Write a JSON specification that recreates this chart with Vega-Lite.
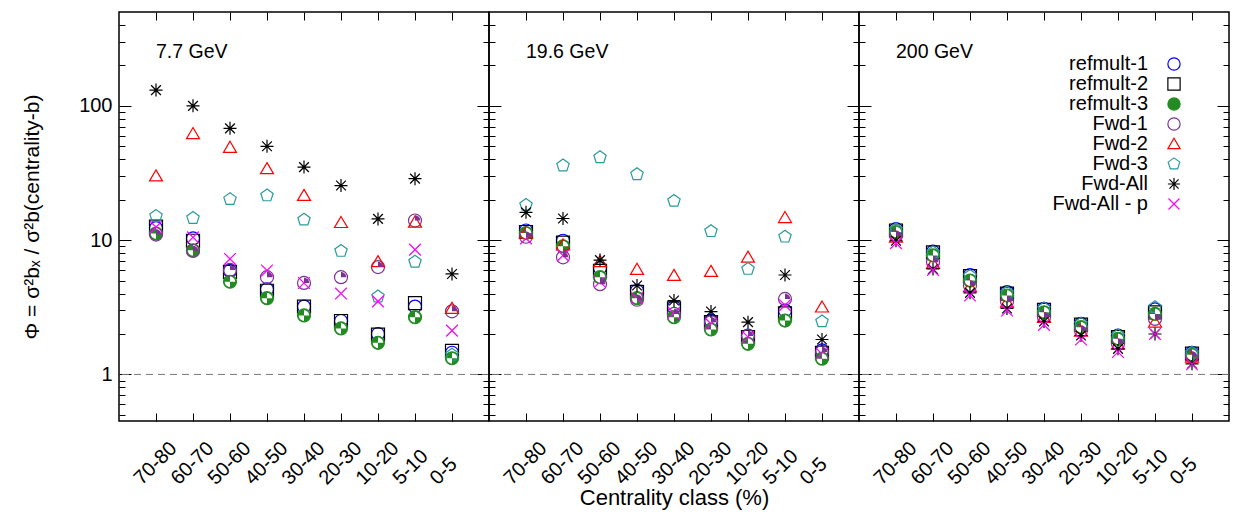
{
  "$schema": "https://vega.github.io/schema/vega-lite/v6.json",
  "background": "white",
  "padding": {"left": 20, "top": 10, "right": 2, "bottom": 2},
  "config": {
    "font": "Liberation Sans",
    "view": {"stroke": "black", "strokeWidth": 1.5},
    "axis": {"labelFont": "Liberation Sans", "labelFontSize": 20, "labelColor": "black", "titleFont": "Liberation Sans", "titleFontWeight": "normal", "titleColor": "black", "tickColor": "black", "domain": false, "grid": false, "tickWidth": 1},
    "legend": {"labelFont": "Liberation Sans", "labelFontSize": 20, "labelColor": "black"}
  },
  "data": {"values": [
    {"energy":"7.7","cent":"70-80","series":"refmult-1","phi":12.3},{"energy":"7.7","cent":"60-70","series":"refmult-1","phi":10.3},{"energy":"7.7","cent":"50-60","series":"refmult-1","phi":5.9},{"energy":"7.7","cent":"40-50","series":"refmult-1","phi":4.3},{"energy":"7.7","cent":"30-40","series":"refmult-1","phi":3.2},{"energy":"7.7","cent":"20-30","series":"refmult-1","phi":2.5},{"energy":"7.7","cent":"10-20","series":"refmult-1","phi":2.0},{"energy":"7.7","cent":"5-10","series":"refmult-1","phi":3.2},{"energy":"7.7","cent":"0-5","series":"refmult-1","phi":1.45},
    {"energy":"7.7","cent":"70-80","series":"refmult-2","phi":12.6},{"energy":"7.7","cent":"60-70","series":"refmult-2","phi":9.9},{"energy":"7.7","cent":"50-60","series":"refmult-2","phi":5.8},{"energy":"7.7","cent":"40-50","series":"refmult-2","phi":4.2},{"energy":"7.7","cent":"30-40","series":"refmult-2","phi":3.2},{"energy":"7.7","cent":"20-30","series":"refmult-2","phi":2.5},{"energy":"7.7","cent":"10-20","series":"refmult-2","phi":1.98},{"energy":"7.7","cent":"5-10","series":"refmult-2","phi":3.4},{"energy":"7.7","cent":"0-5","series":"refmult-2","phi":1.5},
    {"energy":"7.7","cent":"70-80","series":"refmult-3","phi":11.2},{"energy":"7.7","cent":"60-70","series":"refmult-3","phi":8.4},{"energy":"7.7","cent":"50-60","series":"refmult-3","phi":4.9},{"energy":"7.7","cent":"40-50","series":"refmult-3","phi":3.7},{"energy":"7.7","cent":"30-40","series":"refmult-3","phi":2.75},{"energy":"7.7","cent":"20-30","series":"refmult-3","phi":2.2},{"energy":"7.7","cent":"10-20","series":"refmult-3","phi":1.72},{"energy":"7.7","cent":"5-10","series":"refmult-3","phi":2.67},{"energy":"7.7","cent":"0-5","series":"refmult-3","phi":1.32},
    {"energy":"7.7","cent":"70-80","series":"Fwd-1","phi":11.0},{"energy":"7.7","cent":"60-70","series":"Fwd-1","phi":8.3},{"energy":"7.7","cent":"50-60","series":"Fwd-1","phi":6.0},{"energy":"7.7","cent":"40-50","series":"Fwd-1","phi":5.3},{"energy":"7.7","cent":"30-40","series":"Fwd-1","phi":4.8},{"energy":"7.7","cent":"20-30","series":"Fwd-1","phi":5.3},{"energy":"7.7","cent":"10-20","series":"Fwd-1","phi":6.3},{"energy":"7.7","cent":"5-10","series":"Fwd-1","phi":14.0},{"energy":"7.7","cent":"0-5","series":"Fwd-1","phi":2.95},
    {"energy":"7.7","cent":"70-80","series":"Fwd-2","phi":30},{"energy":"7.7","cent":"60-70","series":"Fwd-2","phi":62},{"energy":"7.7","cent":"50-60","series":"Fwd-2","phi":49},{"energy":"7.7","cent":"40-50","series":"Fwd-2","phi":34},{"energy":"7.7","cent":"30-40","series":"Fwd-2","phi":21.5},{"energy":"7.7","cent":"20-30","series":"Fwd-2","phi":13.5},{"energy":"7.7","cent":"10-20","series":"Fwd-2","phi":6.9},{"energy":"7.7","cent":"5-10","series":"Fwd-2","phi":13.6},{"energy":"7.7","cent":"0-5","series":"Fwd-2","phi":3.1},
    {"energy":"7.7","cent":"70-80","series":"Fwd-3","phi":15.1},{"energy":"7.7","cent":"60-70","series":"Fwd-3","phi":14.6},{"energy":"7.7","cent":"50-60","series":"Fwd-3","phi":20.2},{"energy":"7.7","cent":"40-50","series":"Fwd-3","phi":21.5},{"energy":"7.7","cent":"30-40","series":"Fwd-3","phi":14.2},{"energy":"7.7","cent":"20-30","series":"Fwd-3","phi":8.3},{"energy":"7.7","cent":"10-20","series":"Fwd-3","phi":3.8},{"energy":"7.7","cent":"5-10","series":"Fwd-3","phi":6.9},{"energy":"7.7","cent":"0-5","series":"Fwd-3","phi":1.4},
    {"energy":"7.7","cent":"70-80","series":"Fwd-All","phi":131},{"energy":"7.7","cent":"60-70","series":"Fwd-All","phi":100},{"energy":"7.7","cent":"50-60","series":"Fwd-All","phi":68},{"energy":"7.7","cent":"40-50","series":"Fwd-All","phi":50},{"energy":"7.7","cent":"30-40","series":"Fwd-All","phi":35},{"energy":"7.7","cent":"20-30","series":"Fwd-All","phi":25.5},{"energy":"7.7","cent":"10-20","series":"Fwd-All","phi":14.4},{"energy":"7.7","cent":"5-10","series":"Fwd-All","phi":28.7},{"energy":"7.7","cent":"0-5","series":"Fwd-All","phi":5.6},
    {"energy":"7.7","cent":"70-80","series":"Fwd-All - p","phi":12.5},{"energy":"7.7","cent":"60-70","series":"Fwd-All - p","phi":10.5},{"energy":"7.7","cent":"50-60","series":"Fwd-All - p","phi":7.25},{"energy":"7.7","cent":"40-50","series":"Fwd-All - p","phi":5.95},{"energy":"7.7","cent":"30-40","series":"Fwd-All - p","phi":4.8},{"energy":"7.7","cent":"20-30","series":"Fwd-All - p","phi":4.0},{"energy":"7.7","cent":"10-20","series":"Fwd-All - p","phi":3.5},{"energy":"7.7","cent":"5-10","series":"Fwd-All - p","phi":8.5},{"energy":"7.7","cent":"0-5","series":"Fwd-All - p","phi":2.12},

    {"energy":"19.6","cent":"70-80","series":"refmult-1","phi":11.8},{"energy":"19.6","cent":"60-70","series":"refmult-1","phi":9.9},{"energy":"19.6","cent":"50-60","series":"refmult-1","phi":6.2},{"energy":"19.6","cent":"40-50","series":"refmult-1","phi":4.2},{"energy":"19.6","cent":"30-40","series":"refmult-1","phi":3.17},{"energy":"19.6","cent":"20-30","series":"refmult-1","phi":2.52},{"energy":"19.6","cent":"10-20","series":"refmult-1","phi":1.95},{"energy":"19.6","cent":"5-10","series":"refmult-1","phi":2.99},{"energy":"19.6","cent":"0-5","series":"refmult-1","phi":1.51},
    {"energy":"19.6","cent":"70-80","series":"refmult-2","phi":11.5},{"energy":"19.6","cent":"60-70","series":"refmult-2","phi":9.6},{"energy":"19.6","cent":"50-60","series":"refmult-2","phi":5.9},{"energy":"19.6","cent":"40-50","series":"refmult-2","phi":4.1},{"energy":"19.6","cent":"30-40","series":"refmult-2","phi":3.1},{"energy":"19.6","cent":"20-30","series":"refmult-2","phi":2.45},{"energy":"19.6","cent":"10-20","series":"refmult-2","phi":1.9},{"energy":"19.6","cent":"5-10","series":"refmult-2","phi":2.85},{"energy":"19.6","cent":"0-5","series":"refmult-2","phi":1.45},
    {"energy":"19.6","cent":"70-80","series":"refmult-3","phi":11.3},{"energy":"19.6","cent":"60-70","series":"refmult-3","phi":9.0},{"energy":"19.6","cent":"50-60","series":"refmult-3","phi":5.3},{"energy":"19.6","cent":"40-50","series":"refmult-3","phi":3.7},{"energy":"19.6","cent":"30-40","series":"refmult-3","phi":2.67},{"energy":"19.6","cent":"20-30","series":"refmult-3","phi":2.16},{"energy":"19.6","cent":"10-20","series":"refmult-3","phi":1.69},{"energy":"19.6","cent":"5-10","series":"refmult-3","phi":2.52},{"energy":"19.6","cent":"0-5","series":"refmult-3","phi":1.31},
    {"energy":"19.6","cent":"70-80","series":"Fwd-1","phi":10.6},{"energy":"19.6","cent":"60-70","series":"Fwd-1","phi":7.45},{"energy":"19.6","cent":"50-60","series":"Fwd-1","phi":4.7},{"energy":"19.6","cent":"40-50","series":"Fwd-1","phi":3.6},{"energy":"19.6","cent":"30-40","series":"Fwd-1","phi":2.82},{"energy":"19.6","cent":"20-30","series":"Fwd-1","phi":2.45},{"energy":"19.6","cent":"10-20","series":"Fwd-1","phi":1.93},{"energy":"19.6","cent":"5-10","series":"Fwd-1","phi":3.65},{"energy":"19.6","cent":"0-5","series":"Fwd-1","phi":1.47},
    {"energy":"19.6","cent":"70-80","series":"Fwd-2","phi":11.3},{"energy":"19.6","cent":"60-70","series":"Fwd-2","phi":9.2},{"energy":"19.6","cent":"50-60","series":"Fwd-2","phi":6.9},{"energy":"19.6","cent":"40-50","series":"Fwd-2","phi":6.05},{"energy":"19.6","cent":"30-40","series":"Fwd-2","phi":5.45},{"energy":"19.6","cent":"20-30","series":"Fwd-2","phi":5.84},{"energy":"19.6","cent":"10-20","series":"Fwd-2","phi":7.45},{"energy":"19.6","cent":"5-10","series":"Fwd-2","phi":14.7},{"energy":"19.6","cent":"0-5","series":"Fwd-2","phi":3.17},
    {"energy":"19.6","cent":"70-80","series":"Fwd-3","phi":18.3},{"energy":"19.6","cent":"60-70","series":"Fwd-3","phi":35.9},{"energy":"19.6","cent":"50-60","series":"Fwd-3","phi":41.4},{"energy":"19.6","cent":"40-50","series":"Fwd-3","phi":30.9},{"energy":"19.6","cent":"30-40","series":"Fwd-3","phi":19.6},{"energy":"19.6","cent":"20-30","series":"Fwd-3","phi":11.65},{"energy":"19.6","cent":"10-20","series":"Fwd-3","phi":6.1},{"energy":"19.6","cent":"5-10","series":"Fwd-3","phi":10.6},{"energy":"19.6","cent":"0-5","series":"Fwd-3","phi":2.48},
    {"energy":"19.6","cent":"70-80","series":"Fwd-All","phi":16.1},{"energy":"19.6","cent":"60-70","series":"Fwd-All","phi":14.5},{"energy":"19.6","cent":"50-60","series":"Fwd-All","phi":7.1},{"energy":"19.6","cent":"40-50","series":"Fwd-All","phi":4.6},{"energy":"19.6","cent":"30-40","series":"Fwd-All","phi":3.55},{"energy":"19.6","cent":"20-30","series":"Fwd-All","phi":2.94},{"energy":"19.6","cent":"10-20","series":"Fwd-All","phi":2.45},{"energy":"19.6","cent":"5-10","series":"Fwd-All","phi":5.5},{"energy":"19.6","cent":"0-5","series":"Fwd-All","phi":1.82},
    {"energy":"19.6","cent":"70-80","series":"Fwd-All - p","phi":10.3},{"energy":"19.6","cent":"60-70","series":"Fwd-All - p","phi":7.7},{"energy":"19.6","cent":"50-60","series":"Fwd-All - p","phi":4.9},{"energy":"19.6","cent":"40-50","series":"Fwd-All - p","phi":3.7},{"energy":"19.6","cent":"30-40","series":"Fwd-All - p","phi":2.86},{"energy":"19.6","cent":"20-30","series":"Fwd-All - p","phi":2.38},{"energy":"19.6","cent":"10-20","series":"Fwd-All - p","phi":1.9},{"energy":"19.6","cent":"5-10","series":"Fwd-All - p","phi":3.28},{"energy":"19.6","cent":"0-5","series":"Fwd-All - p","phi":1.42},

    {"energy":"200","cent":"70-80","series":"refmult-1","phi":12.1},{"energy":"200","cent":"60-70","series":"refmult-1","phi":8.2},{"energy":"200","cent":"50-60","series":"refmult-1","phi":5.5},{"energy":"200","cent":"40-50","series":"refmult-1","phi":4.1},{"energy":"200","cent":"30-40","series":"refmult-1","phi":3.08},{"energy":"200","cent":"20-30","series":"refmult-1","phi":2.38},{"energy":"200","cent":"10-20","series":"refmult-1","phi":1.95},{"energy":"200","cent":"5-10","series":"refmult-1","phi":3.05},{"energy":"200","cent":"0-5","series":"refmult-1","phi":1.45},
    {"energy":"200","cent":"70-80","series":"refmult-2","phi":11.8},{"energy":"200","cent":"60-70","series":"refmult-2","phi":8.1},{"energy":"200","cent":"50-60","series":"refmult-2","phi":5.4},{"energy":"200","cent":"40-50","series":"refmult-2","phi":4.0},{"energy":"200","cent":"30-40","series":"refmult-2","phi":3.03},{"energy":"200","cent":"20-30","series":"refmult-2","phi":2.35},{"energy":"200","cent":"10-20","series":"refmult-2","phi":1.9},{"energy":"200","cent":"5-10","series":"refmult-2","phi":2.9},{"energy":"200","cent":"0-5","series":"refmult-2","phi":1.43},
    {"energy":"200","cent":"70-80","series":"refmult-3","phi":11.5},{"energy":"200","cent":"60-70","series":"refmult-3","phi":7.7},{"energy":"200","cent":"50-60","series":"refmult-3","phi":5.0},{"energy":"200","cent":"40-50","series":"refmult-3","phi":3.87},{"energy":"200","cent":"30-40","series":"refmult-3","phi":2.9},{"energy":"200","cent":"20-30","series":"refmult-3","phi":2.25},{"energy":"200","cent":"10-20","series":"refmult-3","phi":1.84},{"energy":"200","cent":"5-10","series":"refmult-3","phi":2.82},{"energy":"200","cent":"0-5","series":"refmult-3","phi":1.4},
    {"energy":"200","cent":"70-80","series":"Fwd-1","phi":10.8},{"energy":"200","cent":"60-70","series":"Fwd-1","phi":6.85},{"energy":"200","cent":"50-60","series":"Fwd-1","phi":4.6},{"energy":"200","cent":"40-50","series":"Fwd-1","phi":3.49},{"energy":"200","cent":"30-40","series":"Fwd-1","phi":2.67},{"energy":"200","cent":"20-30","series":"Fwd-1","phi":2.12},{"energy":"200","cent":"10-20","series":"Fwd-1","phi":1.69},{"energy":"200","cent":"5-10","series":"Fwd-1","phi":2.59},{"energy":"200","cent":"0-5","series":"Fwd-1","phi":1.36},
    {"energy":"200","cent":"70-80","series":"Fwd-2","phi":10.5},{"energy":"200","cent":"60-70","series":"Fwd-2","phi":6.7},{"energy":"200","cent":"50-60","series":"Fwd-2","phi":4.5},{"energy":"200","cent":"40-50","series":"Fwd-2","phi":3.45},{"energy":"200","cent":"30-40","series":"Fwd-2","phi":2.65},{"energy":"200","cent":"20-30","series":"Fwd-2","phi":2.1},{"energy":"200","cent":"10-20","series":"Fwd-2","phi":1.68},{"energy":"200","cent":"5-10","series":"Fwd-2","phi":2.45},{"energy":"200","cent":"0-5","series":"Fwd-2","phi":1.34},
    {"energy":"200","cent":"70-80","series":"Fwd-3","phi":12.0},{"energy":"200","cent":"60-70","series":"Fwd-3","phi":8.1},{"energy":"200","cent":"50-60","series":"Fwd-3","phi":5.4},{"energy":"200","cent":"40-50","series":"Fwd-3","phi":4.05},{"energy":"200","cent":"30-40","series":"Fwd-3","phi":3.1},{"energy":"200","cent":"20-30","series":"Fwd-3","phi":2.38},{"energy":"200","cent":"10-20","series":"Fwd-3","phi":1.95},{"energy":"200","cent":"5-10","series":"Fwd-3","phi":3.17},{"energy":"200","cent":"0-5","series":"Fwd-3","phi":1.45},
    {"energy":"200","cent":"70-80","series":"Fwd-All","phi":9.9},{"energy":"200","cent":"60-70","series":"Fwd-All","phi":6.1},{"energy":"200","cent":"50-60","series":"Fwd-All","phi":4.05},{"energy":"200","cent":"40-50","series":"Fwd-All","phi":3.1},{"energy":"200","cent":"30-40","series":"Fwd-All","phi":2.48},{"energy":"200","cent":"20-30","series":"Fwd-All","phi":1.95},{"energy":"200","cent":"10-20","series":"Fwd-All","phi":1.55},{"energy":"200","cent":"5-10","series":"Fwd-All","phi":2.0},{"energy":"200","cent":"0-5","series":"Fwd-All","phi":1.2},
    {"energy":"200","cent":"70-80","series":"Fwd-All - p","phi":9.5},{"energy":"200","cent":"60-70","series":"Fwd-All - p","phi":6.0},{"energy":"200","cent":"50-60","series":"Fwd-All - p","phi":3.87},{"energy":"200","cent":"40-50","series":"Fwd-All - p","phi":2.99},{"energy":"200","cent":"30-40","series":"Fwd-All - p","phi":2.34},{"energy":"200","cent":"20-30","series":"Fwd-All - p","phi":1.82},{"energy":"200","cent":"10-20","series":"Fwd-All - p","phi":1.47},{"energy":"200","cent":"5-10","series":"Fwd-All - p","phi":2.0},{"energy":"200","cent":"0-5","series":"Fwd-All - p","phi":1.19}
  ]},
  "spacing": 0,
  "bounds": "flush",
  "hconcat": [
    {
      "width": 370, "height": 409,
      "transform": [{"filter": "datum.energy == '7.7'"}],
      "resolve": {"axis": {"x": "independent", "y": "independent"}},
      "layer": [
        {"data": {"values": [{}]}, "mark": {"type": "rule", "strokeDash": [7, 5], "color": "#777777", "strokeWidth": 1},
         "encoding": {"y": {"datum": 1, "type": "quantitative", "scale": {"type": "log", "domain": [0.45, 500], "nice": false}, "axis": {"orient": "right", "values": [0.5,0.6,0.7,0.8,0.9,2,3,4,5,6,7,8,9,20,30,40,50,60,70,80,90,200,300,400], "tickSize": -6, "labels": false, "title": null}}}},
        {"mark": {"type": "point", "size": 169, "opacity": 1},
         "encoding": {
           "x": {"field": "cent", "type": "nominal", "sort": ["70-80","60-70","50-60","40-50","30-40","20-30","10-20","5-10","0-5"], "scale": {"type": "point", "domain": ["70-80","60-70","50-60","40-50","30-40","20-30","10-20","5-10","0-5"], "padding": 1}, "axis": {"orient": "bottom", "tickSize": -8, "labelAngle": -45, "labelAlign": "left", "labelBaseline": "middle", "labelPadding": 68, "labelOffset": -19, "title": null}},
           "y": {"field": "phi", "type": "quantitative", "scale": {"type": "log", "domain": [0.45, 500], "nice": false}, "axis": {"orient": "left", "values": [1, 10, 100], "tickSize": -12, "labelPadding": 19, "title": "Φ = σ²bₓ / σ²b(centrality-b)", "titleFontSize": 21, "titlePadding": 36}},
           "shape": {"field": "series", "type": "nominal", "scale": {"domain": ["refmult-1","refmult-2","refmult-3","Fwd-1","Fwd-2","Fwd-3","Fwd-All","Fwd-All - p"], "range": ["circle","square","circle","circle","M0,-0.95L1,0.75L-1,0.75Z","M0,-1L0.951,-0.309L0.588,0.809L-0.588,0.809L-0.951,-0.309Z","M0,-1L0,1M-1,0L1,0M-0.75,-0.75L0.75,0.75M-0.75,0.75L0.75,-0.75","M-0.9,-0.9L0.9,0.9M-0.9,0.9L0.9,-0.9"]}, "legend": {"title": null, "orient": "none", "legendX": 1045, "legendY": 42, "labelAlign": "right", "labelOffset": -36, "rowPadding": 0, "symbolSize": 150, "labelLimit": 300}},
           "stroke": {"field": "series", "type": "nominal", "scale": {"domain": ["refmult-1","refmult-2","refmult-3","Fwd-1","Fwd-2","Fwd-3","Fwd-All","Fwd-All - p"], "range": ["#0000ff","#000000","#228b22","#7b3294","#ff0000","#2b9a9a","#000000","#ff00ff"]}, "legend": {"title": null, "orient": "none", "legendX": 1045, "legendY": 42, "labelAlign": "right", "labelOffset": -36, "rowPadding": 0, "symbolSize": 150, "labelLimit": 300}},
           "fill": {"field": "series", "type": "nominal", "scale": {"domain": ["refmult-1","refmult-2","refmult-3","Fwd-1","Fwd-2","Fwd-3","Fwd-All","Fwd-All - p"], "range": ["transparent","transparent","#228b22","transparent","transparent","transparent","transparent","transparent"]}, "legend": {"title": null, "orient": "none", "legendX": 1045, "legendY": 42, "labelAlign": "right", "labelOffset": -36, "rowPadding": 0, "symbolSize": 150, "labelLimit": 300}},
           "strokeWidth": {"field": "series", "type": "nominal", "scale": {"domain": ["refmult-1","refmult-2","refmult-3","Fwd-1","Fwd-2","Fwd-3","Fwd-All","Fwd-All - p"], "range": [1.2,1.2,1,2.5,1.2,1.2,1.2,1.2]}, "legend": {"title": null, "orient": "none", "legendX": 1045, "legendY": 42, "labelAlign": "right", "labelOffset": -36, "rowPadding": 0, "symbolSize": 150, "labelLimit": 300}}
         }},
        {"transform": [{"filter": "datum.series == 'refmult-3'"}],
         "mark": {"type": "point", "filled": true, "shape": "M0,0L0,-1A1,1 0 0,1 1,0Z M0,0L0,1A1,1 0 0,1 -1,0Z", "fill": "white", "strokeWidth": 0, "size": 110, "opacity": 1},
         "encoding": {
           "x": {"field": "cent", "type": "nominal", "sort": ["70-80","60-70","50-60","40-50","30-40","20-30","10-20","5-10","0-5"], "scale": {"type": "point", "domain": ["70-80","60-70","50-60","40-50","30-40","20-30","10-20","5-10","0-5"], "padding": 1}, "axis": {"orient": "top", "tickSize": -8, "labels": false, "title": null}},
           "y": {"field": "phi", "type": "quantitative", "scale": {"type": "log", "domain": [0.45, 500], "nice": false}, "axis": {"orient": "left", "values": [0.5,0.6,0.7,0.8,0.9,2,3,4,5,6,7,8,9,20,30,40,50,60,70,80,90,200,300,400], "tickSize": -6, "labels": false, "title": null}}
         }},
        {"transform": [{"filter": "datum.series == 'Fwd-1'"}],
         "mark": {"type": "point", "filled": true, "shape": "M0,0L0,-1A1,1 0 0,1 1,0Z", "fill": "#7b3294", "strokeWidth": 0, "size": 110, "opacity": 1},
         "encoding": {
           "x": {"field": "cent", "type": "nominal", "sort": ["70-80","60-70","50-60","40-50","30-40","20-30","10-20","5-10","0-5"], "scale": {"type": "point", "domain": ["70-80","60-70","50-60","40-50","30-40","20-30","10-20","5-10","0-5"], "padding": 1}, "axis": null},
           "y": {"field": "phi", "type": "quantitative", "scale": {"type": "log", "domain": [0.45, 500], "nice": false}, "axis": {"orient": "right", "values": [1, 10, 100], "tickSize": -12, "labels": false, "title": null}}
         }},
        {"data": {"values": [{"label": "7.7 GeV"}]},
         "mark": {"type": "text", "align": "left", "baseline": "middle", "fontSize": 19.5, "color": "black"},
         "encoding": {
           "x": {"datum": "70-80", "type": "nominal", "axis": null},
           "y": {"datum": 250, "type": "quantitative", "axis": null},
           "text": {"field": "label"}
         }}
      ]
    },
    {
      "width": 370, "height": 409,
      "transform": [{"filter": "datum.energy == '19.6'"}],
      "resolve": {"axis": {"x": "independent", "y": "independent"}},
      "layer": [
        {"data": {"values": [{}]}, "mark": {"type": "rule", "strokeDash": [7, 5], "color": "#777777", "strokeWidth": 1},
         "encoding": {"y": {"datum": 1, "type": "quantitative", "scale": {"type": "log", "domain": [0.45, 500], "nice": false}, "axis": {"orient": "right", "values": [0.5,0.6,0.7,0.8,0.9,2,3,4,5,6,7,8,9,20,30,40,50,60,70,80,90,200,300,400], "tickSize": -6, "labels": false, "title": null}}}},
        {"mark": {"type": "point", "size": 169, "opacity": 1},
         "encoding": {
           "x": {"field": "cent", "type": "nominal", "sort": ["70-80","60-70","50-60","40-50","30-40","20-30","10-20","5-10","0-5"], "scale": {"type": "point", "domain": ["70-80","60-70","50-60","40-50","30-40","20-30","10-20","5-10","0-5"], "padding": 1}, "axis": {"orient": "bottom", "tickSize": -8, "labelAngle": -45, "labelAlign": "left", "labelBaseline": "middle", "labelPadding": 68, "labelOffset": -19, "title": "Centrality class (%)", "titleFontSize": 22, "titleY": 76, "titleBaseline": "middle"}},
           "y": {"field": "phi", "type": "quantitative", "scale": {"type": "log", "domain": [0.45, 500], "nice": false}, "axis": {"orient": "left", "values": [1, 10, 100], "tickSize": -12, "labels": false, "title": null}},
           "shape": {"field": "series", "type": "nominal", "scale": {"domain": ["refmult-1","refmult-2","refmult-3","Fwd-1","Fwd-2","Fwd-3","Fwd-All","Fwd-All - p"], "range": ["circle","square","circle","circle","M0,-0.95L1,0.75L-1,0.75Z","M0,-1L0.951,-0.309L0.588,0.809L-0.588,0.809L-0.951,-0.309Z","M0,-1L0,1M-1,0L1,0M-0.75,-0.75L0.75,0.75M-0.75,0.75L0.75,-0.75","M-0.9,-0.9L0.9,0.9M-0.9,0.9L0.9,-0.9"]}, "legend": {"title": null, "orient": "none", "legendX": 1045, "legendY": 42, "labelAlign": "right", "labelOffset": -36, "rowPadding": 0, "symbolSize": 150, "labelLimit": 300}},
           "stroke": {"field": "series", "type": "nominal", "scale": {"domain": ["refmult-1","refmult-2","refmult-3","Fwd-1","Fwd-2","Fwd-3","Fwd-All","Fwd-All - p"], "range": ["#0000ff","#000000","#228b22","#7b3294","#ff0000","#2b9a9a","#000000","#ff00ff"]}, "legend": {"title": null, "orient": "none", "legendX": 1045, "legendY": 42, "labelAlign": "right", "labelOffset": -36, "rowPadding": 0, "symbolSize": 150, "labelLimit": 300}},
           "fill": {"field": "series", "type": "nominal", "scale": {"domain": ["refmult-1","refmult-2","refmult-3","Fwd-1","Fwd-2","Fwd-3","Fwd-All","Fwd-All - p"], "range": ["transparent","transparent","#228b22","transparent","transparent","transparent","transparent","transparent"]}, "legend": {"title": null, "orient": "none", "legendX": 1045, "legendY": 42, "labelAlign": "right", "labelOffset": -36, "rowPadding": 0, "symbolSize": 150, "labelLimit": 300}},
           "strokeWidth": {"field": "series", "type": "nominal", "scale": {"domain": ["refmult-1","refmult-2","refmult-3","Fwd-1","Fwd-2","Fwd-3","Fwd-All","Fwd-All - p"], "range": [1.2,1.2,1,2.5,1.2,1.2,1.2,1.2]}, "legend": {"title": null, "orient": "none", "legendX": 1045, "legendY": 42, "labelAlign": "right", "labelOffset": -36, "rowPadding": 0, "symbolSize": 150, "labelLimit": 300}}
         }},
        {"transform": [{"filter": "datum.series == 'refmult-3'"}],
         "mark": {"type": "point", "filled": true, "shape": "M0,0L0,-1A1,1 0 0,1 1,0Z M0,0L0,1A1,1 0 0,1 -1,0Z", "fill": "white", "strokeWidth": 0, "size": 110, "opacity": 1},
         "encoding": {
           "x": {"field": "cent", "type": "nominal", "sort": ["70-80","60-70","50-60","40-50","30-40","20-30","10-20","5-10","0-5"], "scale": {"type": "point", "domain": ["70-80","60-70","50-60","40-50","30-40","20-30","10-20","5-10","0-5"], "padding": 1}, "axis": {"orient": "top", "tickSize": -8, "labels": false, "title": null}},
           "y": {"field": "phi", "type": "quantitative", "scale": {"type": "log", "domain": [0.45, 500], "nice": false}, "axis": {"orient": "left", "values": [0.5,0.6,0.7,0.8,0.9,2,3,4,5,6,7,8,9,20,30,40,50,60,70,80,90,200,300,400], "tickSize": -6, "labels": false, "title": null}}
         }},
        {"transform": [{"filter": "datum.series == 'Fwd-1'"}],
         "mark": {"type": "point", "filled": true, "shape": "M0,0L0,-1A1,1 0 0,1 1,0Z", "fill": "#7b3294", "strokeWidth": 0, "size": 110, "opacity": 1},
         "encoding": {
           "x": {"field": "cent", "type": "nominal", "sort": ["70-80","60-70","50-60","40-50","30-40","20-30","10-20","5-10","0-5"], "scale": {"type": "point", "domain": ["70-80","60-70","50-60","40-50","30-40","20-30","10-20","5-10","0-5"], "padding": 1}, "axis": null},
           "y": {"field": "phi", "type": "quantitative", "scale": {"type": "log", "domain": [0.45, 500], "nice": false}, "axis": {"orient": "right", "values": [1, 10, 100], "tickSize": -12, "labels": false, "title": null}}
         }},
        {"data": {"values": [{"label": "19.6 GeV"}]},
         "mark": {"type": "text", "align": "left", "baseline": "middle", "fontSize": 19.5, "color": "black"},
         "encoding": {
           "x": {"datum": "70-80", "type": "nominal", "axis": null},
           "y": {"datum": 250, "type": "quantitative", "axis": null},
           "text": {"field": "label"}
         }}
      ]
    },
    {
      "width": 370, "height": 409,
      "transform": [{"filter": "datum.energy == '200'"}],
      "resolve": {"axis": {"x": "independent", "y": "independent"}},
      "layer": [
        {"data": {"values": [{}]}, "mark": {"type": "rule", "strokeDash": [7, 5], "color": "#777777", "strokeWidth": 1},
         "encoding": {"y": {"datum": 1, "type": "quantitative", "scale": {"type": "log", "domain": [0.45, 500], "nice": false}, "axis": {"orient": "right", "values": [0.5,0.6,0.7,0.8,0.9,2,3,4,5,6,7,8,9,20,30,40,50,60,70,80,90,200,300,400], "tickSize": -6, "labels": false, "title": null}}}},
        {"mark": {"type": "point", "size": 169, "opacity": 1},
         "encoding": {
           "x": {"field": "cent", "type": "nominal", "sort": ["70-80","60-70","50-60","40-50","30-40","20-30","10-20","5-10","0-5"], "scale": {"type": "point", "domain": ["70-80","60-70","50-60","40-50","30-40","20-30","10-20","5-10","0-5"], "padding": 1}, "axis": {"orient": "bottom", "tickSize": -8, "labelAngle": -45, "labelAlign": "left", "labelBaseline": "middle", "labelPadding": 68, "labelOffset": -19, "title": null}},
           "y": {"field": "phi", "type": "quantitative", "scale": {"type": "log", "domain": [0.45, 500], "nice": false}, "axis": {"orient": "left", "values": [1, 10, 100], "tickSize": -12, "labels": false, "title": null}},
           "shape": {"field": "series", "type": "nominal", "scale": {"domain": ["refmult-1","refmult-2","refmult-3","Fwd-1","Fwd-2","Fwd-3","Fwd-All","Fwd-All - p"], "range": ["circle","square","circle","circle","M0,-0.95L1,0.75L-1,0.75Z","M0,-1L0.951,-0.309L0.588,0.809L-0.588,0.809L-0.951,-0.309Z","M0,-1L0,1M-1,0L1,0M-0.75,-0.75L0.75,0.75M-0.75,0.75L0.75,-0.75","M-0.9,-0.9L0.9,0.9M-0.9,0.9L0.9,-0.9"]}, "legend": {"title": null, "orient": "none", "legendX": 1045, "legendY": 42, "labelAlign": "right", "labelOffset": -36, "rowPadding": 0, "symbolSize": 150, "labelLimit": 300}},
           "stroke": {"field": "series", "type": "nominal", "scale": {"domain": ["refmult-1","refmult-2","refmult-3","Fwd-1","Fwd-2","Fwd-3","Fwd-All","Fwd-All - p"], "range": ["#0000ff","#000000","#228b22","#7b3294","#ff0000","#2b9a9a","#000000","#ff00ff"]}, "legend": {"title": null, "orient": "none", "legendX": 1045, "legendY": 42, "labelAlign": "right", "labelOffset": -36, "rowPadding": 0, "symbolSize": 150, "labelLimit": 300}},
           "fill": {"field": "series", "type": "nominal", "scale": {"domain": ["refmult-1","refmult-2","refmult-3","Fwd-1","Fwd-2","Fwd-3","Fwd-All","Fwd-All - p"], "range": ["transparent","transparent","#228b22","transparent","transparent","transparent","transparent","transparent"]}, "legend": {"title": null, "orient": "none", "legendX": 1045, "legendY": 42, "labelAlign": "right", "labelOffset": -36, "rowPadding": 0, "symbolSize": 150, "labelLimit": 300}},
           "strokeWidth": {"field": "series", "type": "nominal", "scale": {"domain": ["refmult-1","refmult-2","refmult-3","Fwd-1","Fwd-2","Fwd-3","Fwd-All","Fwd-All - p"], "range": [1.2,1.2,1,2.5,1.2,1.2,1.2,1.2]}, "legend": {"title": null, "orient": "none", "legendX": 1045, "legendY": 42, "labelAlign": "right", "labelOffset": -36, "rowPadding": 0, "symbolSize": 150, "labelLimit": 300}}
         }},
        {"transform": [{"filter": "datum.series == 'refmult-3'"}],
         "mark": {"type": "point", "filled": true, "shape": "M0,0L0,-1A1,1 0 0,1 1,0Z M0,0L0,1A1,1 0 0,1 -1,0Z", "fill": "white", "strokeWidth": 0, "size": 110, "opacity": 1},
         "encoding": {
           "x": {"field": "cent", "type": "nominal", "sort": ["70-80","60-70","50-60","40-50","30-40","20-30","10-20","5-10","0-5"], "scale": {"type": "point", "domain": ["70-80","60-70","50-60","40-50","30-40","20-30","10-20","5-10","0-5"], "padding": 1}, "axis": {"orient": "top", "tickSize": -8, "labels": false, "title": null}},
           "y": {"field": "phi", "type": "quantitative", "scale": {"type": "log", "domain": [0.45, 500], "nice": false}, "axis": {"orient": "left", "values": [0.5,0.6,0.7,0.8,0.9,2,3,4,5,6,7,8,9,20,30,40,50,60,70,80,90,200,300,400], "tickSize": -6, "labels": false, "title": null}}
         }},
        {"transform": [{"filter": "datum.series == 'Fwd-1'"}],
         "mark": {"type": "point", "filled": true, "shape": "M0,0L0,-1A1,1 0 0,1 1,0Z", "fill": "#7b3294", "strokeWidth": 0, "size": 110, "opacity": 1},
         "encoding": {
           "x": {"field": "cent", "type": "nominal", "sort": ["70-80","60-70","50-60","40-50","30-40","20-30","10-20","5-10","0-5"], "scale": {"type": "point", "domain": ["70-80","60-70","50-60","40-50","30-40","20-30","10-20","5-10","0-5"], "padding": 1}, "axis": null},
           "y": {"field": "phi", "type": "quantitative", "scale": {"type": "log", "domain": [0.45, 500], "nice": false}, "axis": {"orient": "right", "values": [1, 10, 100], "tickSize": -12, "labels": false, "title": null}}
         }},
        {"data": {"values": [{"label": "200 GeV"}]},
         "mark": {"type": "text", "align": "left", "baseline": "middle", "fontSize": 19.5, "color": "black"},
         "encoding": {
           "x": {"datum": "70-80", "type": "nominal", "axis": null},
           "y": {"datum": 250, "type": "quantitative", "axis": null},
           "text": {"field": "label"}
         }}
      ]
    }
  ]
}
